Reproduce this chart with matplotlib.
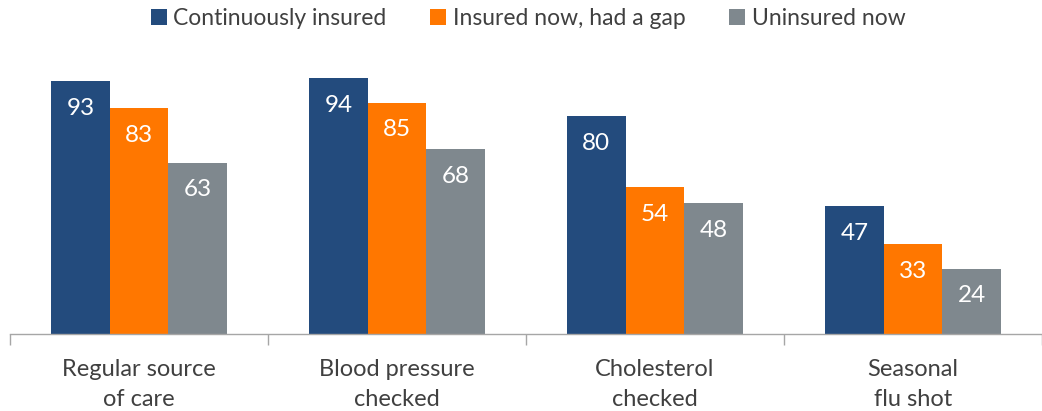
import matplotlib
matplotlib.use("Agg")
import matplotlib.pyplot as plt
import numpy as np

categories = ["Regular source\nof care", "Blood pressure\nchecked", "Cholesterol\nchecked", "Seasonal\nflu shot"]
series_names = ["Continuously insured", "Insured now, had a gap", "Uninsured now"]
continuously = [93, 94, 80, 47]
gap = [83, 85, 54, 33]
uninsured = [63, 68, 48, 24]

colors = ["#234B7D", "#FF7700", "#7F888E"]
text_color = "#404040"
plt.rcParams['font.family'] = ['Lato', 'DejaVu Sans']

fig = plt.figure(figsize=(10.42, 4.11), dpi=100)
ax = fig.add_axes([10 / 1042, 77 / 411, 1032 / 1042, 272 / 411])

x = np.arange(len(categories))
w = 0.227
for i, (vals, name) in enumerate(zip([continuously, gap, uninsured], series_names)):
    pos = x + (i - 1) * w
    ax.bar(pos, vals, width=w, color=colors[i], label=name, linewidth=0)
    for p, v in zip(pos, vals):
        ax.annotate(str(v), (p, v), xytext=(0, -12), textcoords="offset points",
                    ha="center", va="top", color="white", fontsize=17.5)

ax.set_ylim(0, 100)
# one category = 260 px
ax.set_xlim(-0.5, -0.5 + 1032 / 260)
for s in ["top", "right", "left"]:
    ax.spines[s].set_visible(False)
ax.spines["bottom"].set_color("#A6A6A6")
ax.spines["bottom"].set_linewidth(1)
ax.set_yticks([])
ax.set_xticks(x)
ax.set_xticklabels(categories, fontsize=17, color=text_color, linespacing=1.55)
ax.tick_params(axis="x", which="major", length=0, pad=18)
ax.set_xticks(np.arange(-0.5, 4.0, 1.0), minor=True)
ax.tick_params(axis="x", which="minor", length=8, color="#A6A6A6", width=1)

fig.legend(loc="upper center", bbox_to_anchor=(0.507, 1.03), ncol=3, frameon=False,
           fontsize=16.5, handlelength=0.7, handleheight=0.7, handletextpad=0.3,
           columnspacing=1.9, labelcolor=text_color)

fig.savefig("out.png", dpi=100)
